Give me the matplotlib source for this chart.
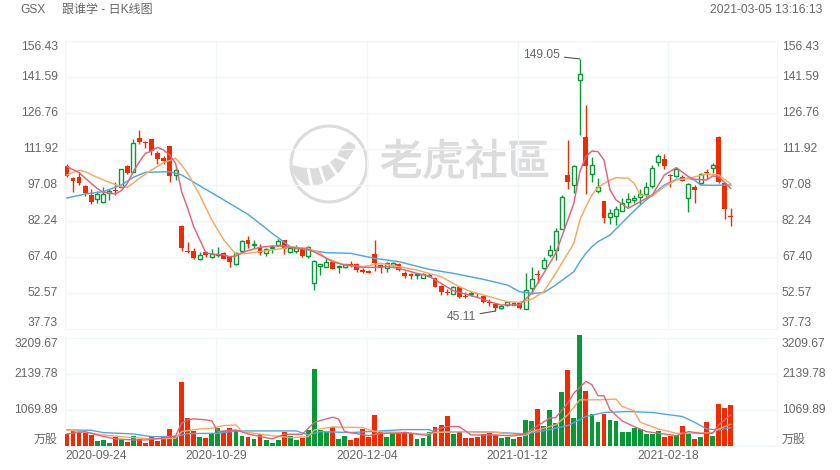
import numpy as np
import matplotlib
matplotlib.use("Agg")
import matplotlib.pyplot as plt
import matplotlib.patheffects as pe
from matplotlib.patches import Circle, Polygon

plt.rcParams['font.family'] = ['Liberation Sans', 'Noto Sans CJK SC', 'DejaVu Sans']

W, H = 840, 470

# daily candles
open_ = [104.91,100.10,100.38,96.81,92.96,91.45,89.94,93.65,94.88,96.39,
         104.91,102.58,116.45,114.80,115.90,110.41,108.21,113.15,101.06,80.18,
         69.74,69.88,66.45,69.47,67.27,68.37,68.92,67.68,64.38,70.02,
         74.28,72.35,70.98,68.92,70.98,72.22,74.28,69.33,70.01,70.70,
         67.95,56.55,63.69,63.42,65.48,63.42,63.42,64.52,64.52,62.18,
         61.63,68.64,64.10,63.00,64.24,64.52,60.94,60.39,59.98,58.88,
         59.71,58.61,55.31,52.98,52.29,55.17,51.19,52.01,52.56,51.19,
         48.99,48.03,46.24,47.48,47.76,48.30,46.11,54.49,60.26,63.01,
         68.37,70.15,79.08,101.06,96.94,140.22,116.73,101.61,94.74,90.35,
         83.75,84.17,86.50,89.94,91.03,92.00,93.51,96.80,106.42,107.80,
         101.20,100.65,100.24,91.58,96.26,97.77,102.44,103.95,116.86,97.77,84.30]
close = [100.79,98.73,97.91,93.78,90.07,93.23,93.23,94.75,94.61,103.54,
         102.16,114.53,114.80,114.53,111.23,107.80,107.11,100.79,103.13,71.12,
         69.33,67.00,68.09,68.37,68.64,68.78,66.72,65.35,68.92,74.14,
         72.76,72.76,69.19,70.57,71.67,73.86,70.84,70.98,70.97,67.95,
         71.38,65.89,64.38,65.20,62.59,63.83,64.38,64.10,62.04,61.36,
         60.94,64.79,63.00,64.93,64.93,62.04,59.71,59.57,60.39,60.26,
         59.98,55.17,53.11,52.56,54.90,50.92,50.92,52.43,52.15,48.85,
         48.30,46.38,47.07,48.72,48.30,46.52,53.67,58.20,59.85,66.03,
         70.15,77.98,92.00,98.32,105.05,142.69,105.05,105.19,96.39,83.62,
         85.40,87.05,89.80,91.45,91.58,93.23,96.12,103.95,108.89,105.05,
         100.93,103.54,98.87,97.63,95.16,101.75,102.16,105.19,98.32,87.33,84.03]
high = [105.74,100.52,102.30,97.08,95.30,94.75,96.12,95.43,98.32,103.54,
        105.32,115.90,119.75,115.35,115.90,111.23,109.03,113.15,104.64,80.60,
        73.59,71.12,69.47,69.74,70.57,71.39,69.47,67.82,69.60,74.41,
        76.06,74.41,72.76,71.12,72.35,74.69,74.28,71.25,72.35,71.11,
        71.93,66.16,64.65,67.13,65.48,63.97,64.38,65.89,64.79,62.87,
        62.04,74.41,64.52,65.48,65.48,64.79,61.63,60.94,60.67,60.67,
        60.94,59.02,55.86,54.07,55.31,55.45,53.11,53.53,52.70,51.47,
        50.23,48.03,47.48,48.72,48.72,48.85,60.67,63.15,62.05,67.27,
        72.21,79.36,92.96,115.63,105.19,149.05,130.05,108.48,99.83,90.62,
        87.05,88.43,91.58,93.64,92.96,95.29,98.32,105.19,109.72,109.86,
        101.61,104.64,101.06,97.77,97.22,102.16,103.54,106.15,117.27,98.04,87.46]
low = [100.24,94.33,97.08,92.55,89.25,89.80,89.80,90.90,92.96,96.12,
       101.61,102.30,113.98,112.19,109.45,105.74,105.74,98.32,99.14,70.02,
       69.19,66.45,66.17,67.27,67.13,67.54,66.45,63.43,64.25,69.74,
       70.98,71.12,68.09,67.96,68.92,71.94,68.64,69.19,69.19,67.54,
       66.99,53.80,59.98,63.28,62.46,60.94,63.00,63.42,61.36,60.67,
       60.67,61.77,60.94,61.36,63.83,61.77,58.75,58.20,58.33,58.61,
       59.30,54.90,51.60,51.88,52.01,50.64,50.50,51.33,50.78,48.58,
       47.21,45.11,46.11,47.21,47.48,45.97,45.84,52.15,56.83,62.60,
       67.27,66.17,78.81,95.57,93.92,117.69,93.37,98.45,93.92,81.56,
       81.01,80.60,86.23,87.88,89.52,88.84,92.27,95.71,104.91,103.67,
       96.39,100.24,98.59,86.09,89.80,97.49,99.42,102.16,98.04,83.06,80.32]

# volume in 10k shares
volume = [348,458,418,388,338,149,179,100,269,179,
          109,289,199,100,269,149,269,498,279,1910,
          846,448,279,249,378,537,448,527,478,289,
          269,219,358,169,100,189,428,289,189,249,
          468,2299,488,408,557,209,299,189,249,517,
          269,915,408,279,398,408,398,368,209,229,
          408,577,617,886,348,428,239,249,269,358,
          378,338,229,259,209,269,766,736,1095,597,
          1075,697,1592,2269,836,3300,1642,965,706,945,
          766,736,418,408,537,507,358,348,438,259,
          299,318,597,358,209,259,726,299,1254,1144,1224]
# this doji has a green candle but a red volume bar
vol_red_days = [67]

# moving averages, only the points I could read
ma_pink_i = [0,2,4,5,6,8,9,10,11,12,13,14,15,16,17,18,19,20,21,23,24,26,27,28,29,30,32,34,36,
             37,40,42,44,46,49,51,53,55,58,60,62,64,66,68,70,72,75,
             77,79,81,83,84,85,86,87,88,89,90,91,93,95,97,99,101,103,104,106,107,108,110]
ma_pink = [104.64,102.16,97.77,95.71,94.06,93.37,94.75,97.77,102.58,106.70,110.13,111.09,112.60,111.51,109.45,106.01,94.33,87.46,79.91,69.19,68.64,68.23,67.54,67.82,69.19,70.02,71.39,71.94,71.94,
           71.38,70.56,68.23,65.48,64.10,63.14,63.14,63.42,62.73,60.67,59.57,56.55,53.53,52.15,50.78,48.99,47.62,47.62,
           52.43,60.67,68.92,82.65,89.52,102.57,108.76,111.09,110.82,107.38,95.02,90.90,87.46,90.21,92.96,101.20,104.22,100.51,99.41,99.14,100.79,100.51,95.71]
ma_orange_i = [0,2,3,5,7,9,10,12,14,16,18,19,20,22,24,26,28,30,33,36,
               37,40,42,43,46,49,52,55,58,62,65,67,70,73,75,
               77,79,81,83,84,85,86,87,88,90,91,93,94,95,97,99,101,103,106,108,110]
ma_orange = [101.20,103.26,102.58,100.24,98.18,96.39,96.12,99.83,103.26,106.28,108.07,105.32,101.89,92.96,82.66,74.41,68.51,68.92,70.02,70.98,
             71.66,70.97,68.91,66.85,64.10,63.42,64.79,63.42,62.04,59.30,55.17,53.11,51.05,48.99,48.72,
             49.96,53.12,60.67,68.92,73.04,82.65,88.15,92.96,96.10,99.14,100.10,99.83,97.77,92.96,92.55,96.39,99.14,99.83,101.61,101.20,97.49]
ma_blue_i = [0,3,6,9,11,13,17,19,23,26,30,34,37,40,43,47,51,55,60,64,69,73,75,
             77,79,81,84,85,86,87,88,89,90,93,95,97,99,101,103,104,105,107,110]
ma_blue = [91.72,93.37,94.33,97.08,100.24,102.30,102.58,101.20,95.30,90.90,84.99,77.16,71.67,70.29,69.19,68.91,66.85,65.48,62.32,60.67,58.20,55.86,53.11,
           52.43,52.70,55.86,61.36,65.48,68.92,71.66,73.73,75.10,76.47,84.03,88.84,92.96,97.08,99.41,99.83,99.14,97.08,96.94,97.08]

vol_pink_i = [0,3,5,8,11,13,16,18,19,20,21,23,24,25,26,28,30,34,36,39,41,44,45,46,50,52,55,
              56,57,60,61,63,65,67,71,74,76,78,80,81,83,84,86,87,88,89,90,92,94,96,98,101,103,105,107,108,110]
vol_pink = [358,428,328,209,179,179,239,299,677,776,806,776,746,428,448,478,358,209,348,348,706,856,806,428,308,378,378,
            408,378,308,478,577,577,328,328,299,368,607,826,846,1274,1572,1920,1821,1493,1493,1075,746,577,428,378,308,428,378,378,627,925]
vol_orange_i = [0,3,6,9,14,18,19,22,24,26,28,29,33,37,40,41,44,49,51,55,
                56,59,61,65,71,74,76,77,81,83,85,88,91,92,94,95,98,101,105,107,108,110]
vol_orange = [478,408,328,279,209,229,428,507,527,607,627,428,328,249,279,478,567,547,428,408,
              398,348,398,428,408,348,308,428,627,925,1373,1373,1393,1174,1045,706,507,378,378,398,507,647]
vol_blue_i = [0,4,6,11,14,18,20,25,28,38,40,42,47,55,
              56,60,61,66,71,76,80,83,86,89,93,97,102,104,106,108,110]
vol_blue = [478,468,398,358,279,279,368,378,448,448,328,428,398,478,
            488,488,408,428,408,358,488,607,876,995,1025,995,876,706,507,478,547]

price_ticks = [156.43,141.59,126.76,111.92,97.08,82.24,67.40,52.57,37.73]
vol_ticks = [3209.67,2139.78,1069.89]
date_i = [0,25,50,75,100]
date_labels = ['2020-09-24','2020-10-29','2020-12-04','2021-01-12','2021-02-18']
hi_i, lo_i = 85, 71

GRID = '#eef6fb'
TXT = '#666666'
RED = '#f32a00'
GREEN = '#069a34'
PINK = '#e8607c'
ORANGE = '#f9a860'
BLUE = '#4ea8e4'
FS = 8.64


def px_axes(left, top, right, bottom):
    return fig.add_axes([left / W, 1 - bottom / H, (right - left) / W, (bottom - top) / H])


fig = plt.figure(figsize=(W / 100, H / 100), dpi=100, facecolor='white')

# pixel overlay: header and watermark
bg = fig.add_axes([0, 0, 1, 1], zorder=0)
bg.set_xlim(0, W)
bg.set_ylim(H, 0)
bg.axis('off')
bg.text(20, 10, 'GSX', fontsize=FS, color=TXT, va='center')
bg.text(62, 10, '跟谁学 - 日K线图', fontsize=FS, color=TXT, va='center')
bg.text(822, 10, '2021-03-05 13:16:13', fontsize=FS, color=TXT, va='center', ha='right')

MARK = '#dcdcdc'
bg.add_patch(Circle((329, 164), 38, fill=False, ec=MARK, lw=2.2))
tail = np.array([(35,150),(70,158),(105,160),(140,150),(170,125),(185,95),(205,80),(225,88),
                 (225,100),(205,130),(180,170),(140,200),(110,212),(75,210),(50,190),(38,170)])
bg.add_patch(Polygon(np.c_[280 + tail[:, 0] / 3, 115 + tail[:, 1] / 3], fc=MARK, ec='none'))
for a, b in [((85,165),(95,212)), ((120,160),(135,205)), ((150,148),(172,182)), ((170,125),(202,140))]:
    bg.plot([280 + a[0] / 3, 280 + b[0] / 3], [115 + a[1] / 3, 115 + b[1] / 3], color='white', lw=2.2)
bg.text(465, 163, '老虎社區', fontsize=30.6, color=MARK, ha='center', va='center',
        family=['Noto Sans CJK TC', 'DejaVu Sans'],
        path_effects=[pe.withStroke(linewidth=0.9, foreground=MARK)])

ax = px_axes(65, 41, 777, 329)
vx = px_axes(65, 338, 777, 446)
xmin, xmax = -0.33, 117.67

for a in (ax, vx):
    a.set_facecolor('none')
    a.set_xlim(xmin, xmax)
    a.set_xticks([i - 0.33 for i in date_i])
    a.tick_params(length=0, labelbottom=False, labelleft=False)
    a.grid(True, color=GRID, lw=1)
    a.set_axisbelow(True)
    for s in a.spines.values():
        s.set_color(GRID)
        s.set_linewidth(0.8)

ax.set_ylim(price_ticks[-1], price_ticks[0])
ax.set_yticks(price_ticks)
vx.set_ylim(0, vol_ticks[0])
vx.set_yticks(vol_ticks + [0])
for a in (ax, vx):
    a.set_zorder(2)

# candles: green up hollow, red down solid
idx = np.arange(len(open_))
o, c, h, l = map(np.array, (open_, close, high, low))
up = c >= o
ax.vlines(idx, l, h, colors=[GREEN if u else RED for u in up], lw=1, zorder=3)
ax.bar(idx[up], (c - o)[up], bottom=o[up], width=0.66, facecolor='white', edgecolor=GREEN, lw=1, zorder=4)
ax.bar(idx[~up], (o - c)[~up], bottom=c[~up], width=0.8, color=RED, zorder=4)

ax.plot(ma_blue_i, ma_blue, color=BLUE, lw=1.05, zorder=5)
ax.plot(ma_orange_i, ma_orange, color=ORANGE, lw=1.05, zorder=6)
ax.plot(ma_pink_i, ma_pink, color=PINK, lw=1.05, zorder=7)

ax.annotate(f'{high[hi_i]:.2f}', xy=(hi_i, high[hi_i]), xycoords='data', xytext=(-14, 3), textcoords='offset points',
            ha='right', va='center', fontsize=FS, color=TXT,
            arrowprops=dict(arrowstyle='-', color='#555555', lw=0.8, shrinkA=1, shrinkB=0), zorder=8)
ax.annotate(f'{low[lo_i]:.2f}', xy=(lo_i, low[lo_i]), xycoords='data', xytext=(-14, -4), textcoords='offset points',
            ha='right', va='center', fontsize=FS, color=TXT,
            arrowprops=dict(arrowstyle='-', color='#555555', lw=0.8, shrinkA=1, shrinkB=0), zorder=8)

# volume
vol_colors = [GREEN if u and i not in vol_red_days else RED for i, u in enumerate(up)]
vx.bar(idx, volume, width=0.8, color=vol_colors, clip_on=False, zorder=3)
vx.plot(vol_blue_i, vol_blue, color=BLUE, lw=1, zorder=5)
vx.plot(vol_orange_i, vol_orange, color=ORANGE, lw=1, zorder=6)
vx.plot(vol_pink_i, vol_pink, color=PINK, lw=1, zorder=7)

# value labels left and right, first and last stay inside their pane
left_x, right_x = -7 / 712, 1 + 5 / 712
for n, t in enumerate(price_ticks):
    va = 'top' if n == 0 else 'bottom' if n == len(price_ticks) - 1 else 'center'
    ax.text(left_x, t, f'{t:.2f}', transform=ax.get_yaxis_transform(), ha='right', va=va, fontsize=FS, color=TXT)
    ax.text(right_x, t, f'{t:.2f}', transform=ax.get_yaxis_transform(), ha='left', va=va, fontsize=FS, color=TXT)
for n, t in enumerate(vol_ticks):
    va = 'top' if n == 0 else 'center'
    vx.text(left_x, t, f'{t:.2f}', transform=vx.get_yaxis_transform(), ha='right', va=va, fontsize=FS, color=TXT)
    vx.text(right_x, t, f'{t:.2f}', transform=vx.get_yaxis_transform(), ha='left', va=va, fontsize=FS, color=TXT)
vx.text(left_x, 0, '万股', transform=vx.get_yaxis_transform(), ha='right', va='bottom', fontsize=FS, color=TXT)
vx.text(right_x, 0, '万股', transform=vx.get_yaxis_transform(), ha='left', va='bottom', fontsize=FS, color=TXT)

for n, (i, lab) in enumerate(zip(date_i, date_labels)):
    vx.text(i - 0.33, -10 / 108, lab, transform=vx.get_xaxis_transform(), ha='left' if n == 0 else 'center',
            va='center', fontsize=FS, color=TXT)

fig.savefig('out.png', dpi=100)
